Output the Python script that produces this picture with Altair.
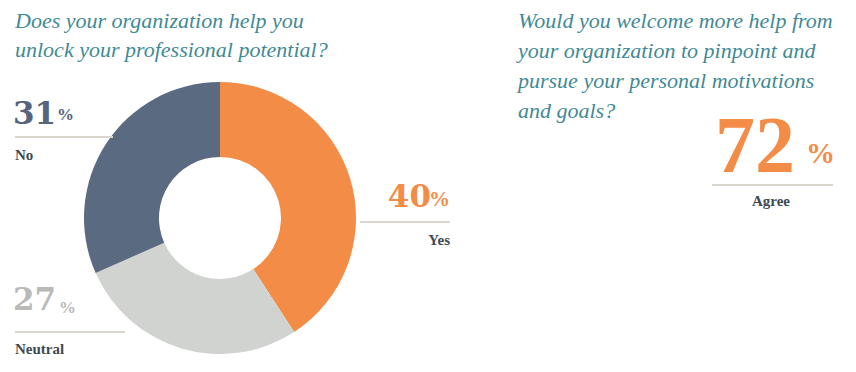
import altair as alt

# ---- data ----
categories = ["Yes", "Neutral", "No"]
values = [40, 27, 31]
colors = ["#F28C47", "#D1D3D0", "#5A6A81"]
order = [1, 2, 3]

question_left = ["Does your organization help you", "unlock your professional potential?"]
question_right = ["Would you welcome more help from", "your organization to pinpoint and",
                  "pursue your personal motivations", "and goals?"]
agree_value = 72
agree_label = "Agree"

OFF = 8
W, H = 840, 356
SERIF = "'Liberation Serif', 'Times New Roman', Times, serif"
WIDE = "'DejaVu Serif', serif"
TEAL = "#3F8A94"
LABEL = "#3E4A54"
RULE = "#DAD6CF"

pie_data = alt.Data(values=[{"cat": c, "val": v, "ord": o} for c, v, o in zip(categories, values, order)])

donut = alt.Chart(pie_data).mark_arc(innerRadius=61, outerRadius=136).encode(
    theta=alt.Theta("val:Q", stack=True),
    order=alt.Order("ord:Q"),
    color=alt.Color("cat:N", scale=alt.Scale(domain=categories, range=colors), legend=None),
    x=alt.value(220 - OFF),
    y=alt.value(218 - OFF),
)


def txt(t, x, y, size, color, align="left", bold=False, italic=False, lh=None, font=SERIF):
    kw = dict(align=align, baseline="alphabetic", fontSize=size, color=color, font=font)
    if bold:
        kw["fontWeight"] = "bold"
    if italic:
        kw["fontStyle"] = "italic"
    if lh:
        kw["lineHeight"] = lh
        kw["lineBreak"] = "\n"
    return alt.Chart(alt.Data(values=[{"t": t}])).mark_text(**kw).encode(
        x=alt.value(x - OFF), y=alt.value(y - OFF), text="t:N")


def rule(x1, x2, y):
    return alt.Chart(alt.Data(values=[{"a": 1}])).mark_rule(color=RULE, strokeWidth=2).encode(
        x=alt.value(x1 - OFF), x2=alt.value(x2 - OFF), y=alt.value(y - OFF))


vals = dict(zip(categories, values))
cols = dict(zip(categories, colors))

layers = [
    donut,
    txt("\n".join(question_left), 15, 28, 22, TEAL, italic=True, lh=29),
    txt("\n".join(question_right), 518, 28, 22, TEAL, italic=True, lh=30),
    # No
    txt(str(vals["No"]), 13, 124, 31, "#56647C", bold=True, font=WIDE),
    txt("%", 57, 120, 17, "#56647C", bold=True),
    rule(15, 113, 137),
    txt("No", 15, 160, 15, LABEL, bold=True),
    # Neutral
    txt(str(vals["Neutral"]), 13, 310, 31, "#B9B9B7", bold=True, font=WIDE),
    txt("%", 59, 313, 17, "#B9B9B7", bold=True),
    rule(15, 125, 332),
    txt("Neutral", 15, 354, 15, LABEL, bold=True),
    # Yes
    txt(str(vals["Yes"]), 431, 207, 31, cols["Yes"], align="right", bold=True, font=WIDE),
    txt("%", 450, 206, 21, cols["Yes"], align="right", bold=True),
    rule(360, 450, 222),
    txt("Yes", 450, 245, 15, LABEL, align="right", bold=True),
    # Agree
    txt(str(agree_value), 715, 172, 80, cols["Yes"], bold=True),
    txt("%", 806, 163, 29, cols["Yes"], bold=True),
    rule(712, 833, 185),
    txt(agree_label, 771, 206, 15, LABEL, align="center", bold=True),
]

chart = alt.layer(*layers).properties(
    width=W, height=H,
    autosize=alt.AutoSizeParams(type="fit", contains="padding"),
    padding=0,
    background="white",
).configure_view(stroke=None)

chart.save("out.html", embed_options={"renderer": "svg", "actions": False})
